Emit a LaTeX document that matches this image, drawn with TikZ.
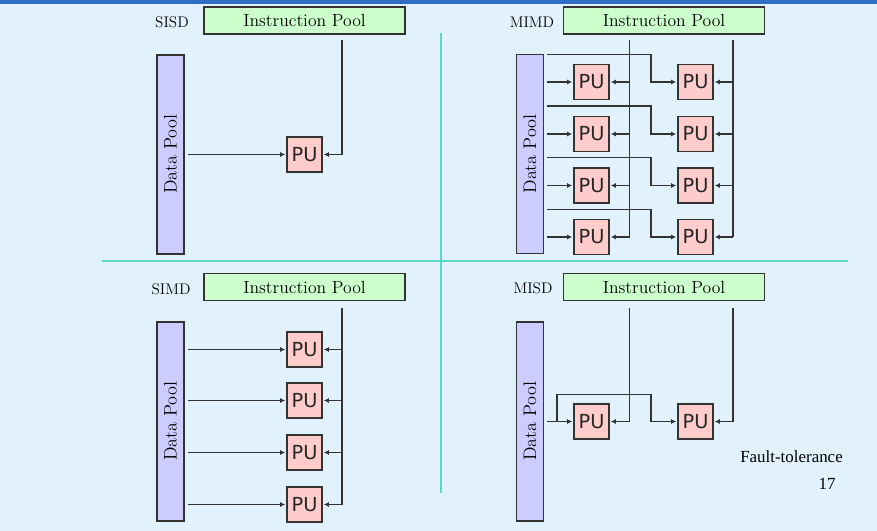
\documentclass[tikz,border=0pt]{standalone}
\usepackage{fontspec}
\newfontfamily\pufont{DejaVu Sans}
\newfontfamily\timesfont{Liberation Serif}
\usetikzlibrary{arrows.meta}
\definecolor{bg}{HTML}{E2F2FC}
\definecolor{linec}{HTML}{333333}
\definecolor{ipfill}{HTML}{CCFFCC}
\definecolor{dpfill}{HTML}{CCCCFF}
\definecolor{pufill}{HTML}{FFCCCC}
\definecolor{sepc}{HTML}{5ED6C8}
\definecolor{topbar}{HTML}{2F6DC4}
\tikzset{
  ipool/.style={draw=linec, fill=ipfill, line width=1.1pt, minimum width=150.75pt, minimum height=20.25pt, inner sep=0pt, font=\fontsize{13.2}{15}\selectfont},
  dpool/.style={draw=linec, fill=dpfill, line width=1.1pt, minimum width=20.25pt, minimum height=149.25pt, inner sep=0pt},
  dplabel/.style={rotate=90, inner sep=0pt, font=\fontsize{13.6}{15}\selectfont},
  pubox/.style={draw=linec, fill=pufill, line width=1.1pt, minimum size=26.25pt, inner sep=0pt, font=\pufont\fontsize{14.5}{14}\selectfont, text=black!85},
  kind/.style={inner sep=0pt, font=\fontsize{11.5}{13}\selectfont},
  wire/.style={draw=linec, line width=1.05pt},
  arr/.style={wire, -{Latex[length=3.8pt,width=3.8pt]}, shorten >=0.8pt},
  sep/.style={draw=sepc, line width=1.1pt},
  note/.style={inner sep=0pt, font=\timesfont\fontsize{12.7}{14}\selectfont}
}
\begin{document}
\begin{tikzpicture}[x=0.75pt,y=-0.75pt]
\useasboundingbox (0,0) rectangle (877,531);
\fill[bg] (0,0) rectangle (877,531);
\fill[topbar] (0,0) rectangle (877,3.8);

% separators
\draw[sep] (102,261) -- (848,261);
\draw[sep] (441,33) -- (441,493);

% ---------------- SISD ----------------
\node[kind] (lsisd) at (172,22) {SISD};
\node[ipool] (ip1) at (304.5,20.5) {Instruction Pool};
\node[dpool] (dp1) at (170.5,154.5) {};
\node[dplabel] (dl1) at (dp1.center) {Data Pool};
\node[pubox] (pu1) at (304.5,154.5) {PU};
\coordinate (b1) at (342,40);
\coordinate (d1) at (188,154.5);
\draw[arr] (d1) -- (pu1.west);
\draw[arr] (b1) |- (pu1.east);

% ---------------- MIMD ----------------
\node[kind] (lmimd) at (532,22) {MIMD};
\node[ipool] (ip2) at (664,20.5) {Instruction Pool};
\node[dpool] (dp2) at (530,154) {};
\node[dplabel] (dl2) at (dp2.center) {Data Pool};
\coordinate (b2a) at (629.7,40);
\coordinate (b2b) at (733,40);
\coordinate (b2ae) at (629.7,237);
\coordinate (b2be) at (733,237);
\draw[wire] (b2a) -- (b2ae);
\draw[wire] (b2b) -- (b2be);
\foreach \i/\y/\by in {1/82/54.3, 2/134/106, 3/185.5/157.7, 4/237/209.3}{
  \node[pubox] (pl\i) at (591.5,\y) {PU};
  \node[pubox] (pr\i) at (695.5,\y) {PU};
  \coordinate (dl\i) at (547,\y);
  \coordinate (br\i) at (547,\by);
  \coordinate (bk\i) at (651,\by);
  \draw[arr] (dl\i) -- (pl\i.west);
  \draw[arr] (br\i) -- (bk\i) |- (pr\i.west);
  \draw[arr] (b2a |- pl\i.east) -- (pl\i.east);
  \draw[arr] (b2b |- pr\i.east) -- (pr\i.east);
}

% ---------------- SIMD ----------------
\node[kind] (lsimd) at (171,289) {SIMD};
\node[ipool] (ip3) at (304.5,287) {Instruction Pool};
\node[dpool] (dp3) at (170.5,421.5) {};
\node[dplabel] (dl3) at (dp3.center) {Data Pool};
\coordinate (b3) at (342,308);
\coordinate (b3e) at (342,504.5);
\draw[wire] (b3) -- (b3e);
\foreach \i/\y in {1/349.5, 2/400.5, 3/452.5, 4/504.5}{
  \node[pubox] (ps\i) at (304.5,\y) {PU};
  \coordinate (ds\i) at (188,\y);
  \draw[arr] (ds\i) -- (ps\i.west);
  \draw[arr] (b3 |- ps\i.east) -- (ps\i.east);
}

% ---------------- MISD ----------------
\node[kind] (lmisd) at (533,288) {MISD};
\node[ipool] (ip4) at (664,287) {Instruction Pool};
\node[dpool] (dp4) at (530,421.5) {};
\node[dplabel] (dl4) at (dp4.center) {Data Pool};
\node[pubox] (pm1) at (591.5,421.5) {PU};
\node[pubox] (pm2) at (695.5,421.5) {PU};
\coordinate (b4a) at (629.7,307.7);
\coordinate (b4b) at (733,307.7);
\coordinate (d4) at (547,421.5);
\coordinate (s4) at (557,421.5);
\coordinate (t4) at (557,394.3);
\coordinate (k4) at (651,394.3);
\draw[arr] (d4) -- (pm1.west);
\draw[arr] (s4) -- (t4) -- (k4) |- (pm2.west);
\draw[arr] (b4a) |- (pm1.east);
\draw[arr] (b4b) |- (pm2.east);

\node[note] (ft) at (791.5,457) {Fault-tolerance};
\node[note] (pg) at (827,484) {17};
\end{tikzpicture}
\end{document}
